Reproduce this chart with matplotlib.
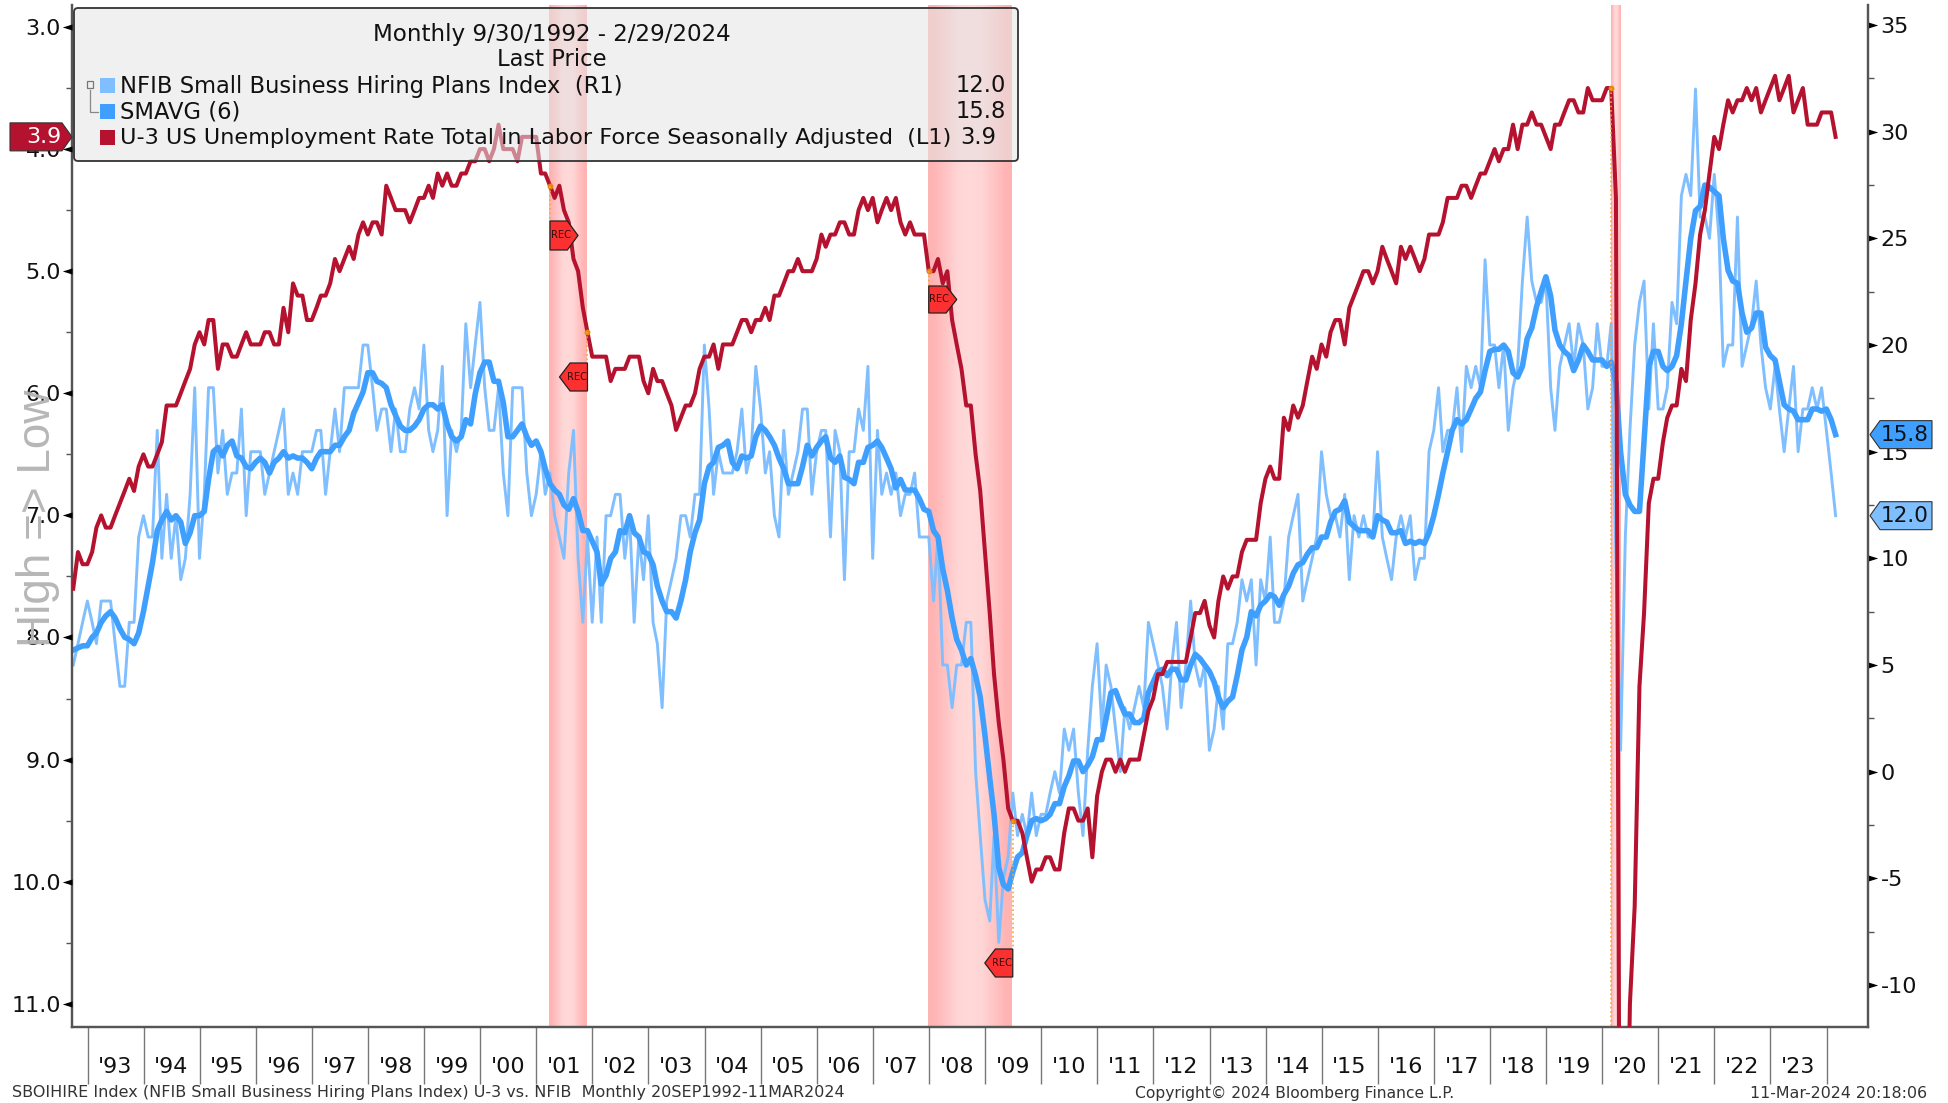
import numpy as np
import pandas as pd
import matplotlib
matplotlib.use("Agg")
import matplotlib.pyplot as plt
import matplotlib.dates as mdates
from matplotlib.patches import Polygon, FancyBboxPatch, Rectangle
from matplotlib.path import Path

FONT = "DejaVu Sans"
plt.rcParams["font.family"] = FONT

# monthly, Sep 1992 ... Feb 2024
u3 = [7.6, 7.3, 7.4, 7.4,
      7.3, 7.1, 7.0, 7.1, 7.1, 7.0, 6.9, 6.8, 6.7, 6.8, 6.6, 6.5,
      6.6, 6.6, 6.5, 6.4, 6.1, 6.1, 6.1, 6.0, 5.9, 5.8, 5.6, 5.5,
      5.6, 5.4, 5.4, 5.8, 5.6, 5.6, 5.7, 5.7, 5.6, 5.5, 5.6, 5.6,
      5.6, 5.5, 5.5, 5.6, 5.6, 5.3, 5.5, 5.1, 5.2, 5.2, 5.4, 5.4,
      5.3, 5.2, 5.2, 5.1, 4.9, 5.0, 4.9, 4.8, 4.9, 4.7, 4.6, 4.7,
      4.6, 4.6, 4.7, 4.3, 4.4, 4.5, 4.5, 4.5, 4.6, 4.5, 4.4, 4.4,
      4.3, 4.4, 4.2, 4.3, 4.2, 4.3, 4.3, 4.2, 4.2, 4.1, 4.1, 4.0,
      4.0, 4.1, 4.0, 3.8, 4.0, 4.0, 4.0, 4.1, 3.9, 3.9, 3.9, 3.9,
      4.2, 4.2, 4.3, 4.4, 4.3, 4.5, 4.6, 4.9, 5.0, 5.3, 5.5, 5.7,
      5.7, 5.7, 5.7, 5.9, 5.8, 5.8, 5.8, 5.7, 5.7, 5.7, 5.9, 6.0,
      5.8, 5.9, 5.9, 6.0, 6.1, 6.3, 6.2, 6.1, 6.1, 6.0, 5.8, 5.7,
      5.7, 5.6, 5.8, 5.6, 5.6, 5.6, 5.5, 5.4, 5.4, 5.5, 5.4, 5.4,
      5.3, 5.4, 5.2, 5.2, 5.1, 5.0, 5.0, 4.9, 5.0, 5.0, 5.0, 4.9,
      4.7, 4.8, 4.7, 4.7, 4.6, 4.6, 4.7, 4.7, 4.5, 4.4, 4.5, 4.4,
      4.6, 4.5, 4.4, 4.5, 4.4, 4.6, 4.7, 4.6, 4.7, 4.7, 4.7, 5.0,
      5.0, 4.9, 5.1, 5.0, 5.4, 5.6, 5.8, 6.1, 6.1, 6.5, 6.8, 7.3,
      7.8, 8.3, 8.7, 9.0, 9.4, 9.5, 9.5, 9.6, 9.8, 10.0, 9.9, 9.9,
      9.8, 9.8, 9.9, 9.9, 9.6, 9.4, 9.4, 9.5, 9.5, 9.4, 9.8, 9.3,
      9.1, 9.0, 9.0, 9.1, 9.0, 9.1, 9.0, 9.0, 9.0, 8.8, 8.6, 8.5,
      8.3, 8.3, 8.2, 8.2, 8.2, 8.2, 8.2, 8.0, 7.8, 7.8, 7.7, 7.9,
      8.0, 7.7, 7.5, 7.6, 7.5, 7.5, 7.3, 7.2, 7.2, 7.2, 6.9, 6.7,
      6.6, 6.7, 6.7, 6.2, 6.3, 6.1, 6.2, 6.1, 5.9, 5.7, 5.8, 5.6,
      5.7, 5.5, 5.4, 5.4, 5.6, 5.3, 5.2, 5.1, 5.0, 5.0, 5.1, 5.0,
      4.8, 4.9, 5.0, 5.1, 4.8, 4.9, 4.8, 4.9, 5.0, 4.9, 4.7, 4.7,
      4.7, 4.6, 4.4, 4.4, 4.4, 4.3, 4.3, 4.4, 4.3, 4.2, 4.2, 4.1,
      4.0, 4.1, 4.0, 4.0, 3.8, 4.0, 3.8, 3.8, 3.7, 3.8, 3.8, 3.9,
      4.0, 3.8, 3.8, 3.7, 3.6, 3.6, 3.7, 3.7, 3.5, 3.6, 3.6, 3.6,
      3.5, 3.5, 4.4, 14.8, 13.2, 11.0, 10.2, 8.4, 7.8, 6.9, 6.7, 6.7,
      6.4, 6.2, 6.1, 6.1, 5.8, 5.9, 5.4, 5.1, 4.7, 4.5, 4.2, 3.9,
      4.0, 3.8, 3.6, 3.7, 3.6, 3.6, 3.5, 3.6, 3.5, 3.7, 3.6, 3.5,
      3.4, 3.6, 3.5, 3.4, 3.7, 3.6, 3.5, 3.8, 3.8, 3.8, 3.7, 3.7,
      3.7, 3.9]

nfib = [5, 6, 7, 8, 7, 6, 8, 8, 8, 6,
        4, 4, 7, 7, 11, 12, 11, 11, 16, 10,
        13, 10, 12, 9, 10, 13, 18, 10, 13, 18,
        18, 14, 16, 13, 14, 14, 17, 12, 15, 15,
        15, 13, 14, 15, 16, 17, 13, 14, 13, 15,
        15, 15, 16, 16, 13, 15, 17, 15, 18, 18,
        18, 18, 20, 20, 18, 16, 17, 17, 15, 17,
        15, 15, 17, 18, 17, 20, 16, 15, 16, 19,
        12, 16, 15, 16, 21, 18, 20, 22, 18, 16,
        16, 18, 14, 12, 18, 18, 18, 14, 12, 13,
        15, 13, 14, 12, 11, 10, 14, 16, 10, 7,
        11, 7, 11, 7, 12, 12, 13, 13, 10, 12,
        7, 11, 9, 12, 7, 6, 3, 8, 9, 10,
        12, 12, 11, 13, 13, 20, 17, 13, 15, 14,
        14, 14, 15, 17, 14, 15, 19, 17, 14, 15,
        12, 11, 16, 13, 14, 15, 17, 17, 13, 15,
        16, 16, 11, 16, 15, 9, 15, 15, 17, 16,
        19, 10, 16, 13, 14, 13, 14, 12, 13, 13,
        14, 11, 11, 11, 8, 11, 5, 5, 3, 5,
        5, 7, 7, 0, -3, -6, -7, -3, -8, -5,
        -4, -1, -3, -2, -3, -1, -3, -2, -2, -1,
        0, -1, 2, 1, 2, -1, -3, 1, 4, 6,
        2, 5, 4, 2, 0, 3, 2, 3, 4, 3,
        7, 6, 5, 4, 2, 5, 7, 3, 5, 8,
        5, 4, 5, 1, 2, 4, 2, 6, 6, 7,
        9, 8, 9, 5, 9, 8, 11, 7, 7, 8,
        11, 12, 13, 8, 9, 10, 11, 15, 13, 12,
        12, 11, 13, 9, 12, 11, 12, 11, 11, 15,
        11, 10, 9, 11, 12, 11, 12, 9, 10, 10,
        15, 16, 18, 15, 16, 16, 18, 15, 19, 18,
        19, 18, 24, 20, 20, 18, 20, 16, 18, 19,
        23, 26, 23, 22, 22, 23, 18, 16, 19, 20,
        21, 19, 21, 20, 17, 18, 21, 19, 19, 21,
        10, 1, 11, 16, 20, 22, 23, 17, 21, 17,
        17, 18, 22, 21, 27, 28, 27, 32, 26, 26,
        25, 28, 25, 19, 20, 20, 26, 19, 20, 21,
        23, 20, 18, 17, 19, 17, 15, 17, 19, 15,
        17, 17, 18, 17, 18, 16, 14, 12]

smavg = [5.7, 5.8, 5.9, 5.9, 6.3, 6.5, 7.0, 7.3, 7.5, 7.2,
         6.7, 6.3, 6.2, 6.0, 6.5, 7.5, 8.7, 9.8, 11.3, 11.8,
         12.2, 11.8, 12.0, 11.7, 10.7, 11.2, 12.0, 12.0, 12.2, 13.7,
         15.0, 15.2, 14.8, 15.3, 15.5, 14.8, 14.7, 14.3, 14.2, 14.5,
         14.7, 14.5, 14.0, 14.5, 14.7, 15.0, 14.7, 14.8, 14.7, 14.7,
         14.5, 14.2, 14.7, 15.0, 15.0, 15.0, 15.3, 15.3, 15.7, 16.0,
         16.8, 17.3, 17.8, 18.7, 18.7, 18.3, 18.2, 18.0, 17.2, 16.7,
         16.2, 16.0, 16.0, 16.2, 16.5, 17.0, 17.2, 17.2, 17.0, 17.2,
         16.3, 15.7, 15.5, 15.7, 16.5, 16.3, 17.7, 18.7, 19.2, 19.2,
         18.3, 18.3, 17.3, 15.7, 15.7, 16.0, 16.3, 15.7, 15.3, 15.5,
         15.0, 14.2, 13.5, 13.2, 13.0, 12.5, 12.3, 12.8, 12.2, 11.3,
         11.3, 10.8, 10.3, 8.8, 9.2, 10.0, 10.3, 11.3, 11.2, 12.0,
         11.2, 11.0, 10.3, 10.2, 9.7, 8.7, 8.0, 7.5, 7.5, 7.2,
         8.0, 9.0, 10.3, 11.2, 11.8, 13.5, 14.3, 14.5, 15.2, 15.3,
         15.5, 14.5, 14.2, 14.8, 14.7, 14.8, 15.7, 16.2, 16.0, 15.7,
         15.3, 14.7, 14.2, 13.5, 13.5, 13.5, 14.3, 15.3, 14.8, 15.2,
         15.5, 15.7, 14.7, 14.5, 14.8, 13.8, 13.7, 13.5, 14.5, 14.5,
         15.2, 15.3, 15.5, 15.2, 14.7, 14.2, 13.3, 13.7, 13.2, 13.2,
         13.2, 12.8, 12.3, 12.2, 11.3, 11.0, 9.5, 8.5, 7.2, 6.2,
         5.7, 5.0, 5.3, 4.5, 3.5, 1.7, -0.3, -2.0, -4.5, -5.3,
         -5.5, -4.7, -4.0, -3.8, -3.0, -2.3, -2.2, -2.3, -2.2, -2.0,
         -1.5, -1.5, -0.7, -0.2, 0.5, 0.5, 0.0, 0.3, 0.7, 1.5,
         1.5, 2.5, 3.7, 3.8, 3.2, 2.7, 2.7, 2.3, 2.3, 2.5,
         3.7, 4.2, 4.7, 4.8, 4.5, 4.8, 4.8, 4.3, 4.3, 5.0,
         5.5, 5.3, 5.0, 4.7, 4.2, 3.5, 3.0, 3.3, 3.5, 4.5,
         5.7, 6.3, 7.5, 7.3, 7.8, 8.0, 8.3, 8.2, 7.8, 8.3,
         8.7, 9.3, 9.7, 9.8, 10.2, 10.5, 10.5, 11.0, 11.0, 11.7,
         12.2, 12.3, 12.7, 11.7, 11.5, 11.3, 11.3, 11.3, 11.0, 12.0,
         11.8, 11.7, 11.2, 11.2, 11.3, 10.7, 10.8, 10.7, 10.8, 10.7,
         11.2, 12.0, 13.0, 14.0, 15.0, 16.0, 16.5, 16.3, 16.5, 17.0,
         17.5, 17.8, 18.8, 19.7, 19.8, 19.8, 20.0, 19.7, 18.7, 18.5,
         19.0, 20.3, 20.8, 21.8, 22.5, 23.2, 22.3, 20.7, 20.0, 19.7,
         19.5, 18.8, 19.3, 20.0, 19.7, 19.3, 19.3, 19.3, 19.0, 19.2,
         18.2, 15.0, 13.0, 12.5, 12.2, 12.2, 15.5, 19.0, 19.7, 19.7,
         19.0, 18.8, 19.0, 19.5, 21.0, 23.0, 25.0, 26.3, 26.5, 27.5,
         27.4, 27.2, 27.0, 25.0, 23.5, 23.0, 22.9, 21.5, 20.6, 20.8,
         21.5, 21.5, 19.9, 19.5, 19.3, 18.3, 17.2, 17.0, 16.9, 16.5,
         16.5, 16.5, 17.0, 17.0, 16.9, 17.0, 16.5, 15.8]

dates = pd.date_range("1992-09-30", periods=len(u3), freq="ME")
years = list(range(1993, 2025))
year_labels = ["'%02d" % (y % 100) for y in years[:-1]]
recessions = [("2001-03-25", "2001-11-22"), ("2007-12-25", "2009-06-22"), ("2020-02-25", "2020-04-25")]
rec_starts_ends = ["2001-03-31", "2001-11-30", "2007-12-31", "2009-06-30", "2020-02-29"]

W, H = 1948, 1103
RED, SMA, THIN = "#b5122f", "#3f9fff", "#80bfff"
AX_L, AX_R, AX_T, AX_B = 72, 1868, 5, 1027
TICKFS = 16

fig = plt.figure(figsize=(W / 100, H / 100), dpi=100, facecolor="white")
ax = fig.add_axes([AX_L / W, 1 - AX_B / H, (AX_R - AX_L) / W, (AX_B - AX_T) / H])
ax2 = ax.twinx()
ax.set_zorder(ax2.get_zorder() + 1)
ax.patch.set_visible(False)

XLIM = (mdates.date2num(pd.Timestamp("1992-09-22")), mdates.date2num(pd.Timestamp("2024-09-27")))

# recession shading
grad = np.array([[0.0, 0.45, 0.9, 1.0, 0.9, 0.45, 0.0]])
cm = matplotlib.colors.LinearSegmentedColormap.from_list("b", ["#ffb4b4", "#ffd9d9"])
for a, b in recessions:
    ax2.imshow(grad, aspect="auto", cmap=cm, vmin=0, vmax=1, interpolation="bilinear", zorder=0,
               extent=[mdates.date2num(pd.Timestamp(a)), mdates.date2num(pd.Timestamp(b)), -12, 36])

ax2.plot(dates, nfib, color=THIN, lw=2.1, zorder=2, solid_joinstyle="round")
ax2.plot(dates, smavg, color=SMA, lw=4.0, zorder=3, solid_joinstyle="round")
ax.plot(dates, u3, color=RED, lw=2.9, zorder=4, solid_joinstyle="round")

ax.set_xlim(XLIM)
ax.set_ylim(11.19, 2.82)
ax2.set_ylim(-11.97, 35.94)
ax2.set_xlim(XLIM)

for a in (ax, ax2):
    a.spines["top"].set_visible(False)
    for s in ("left", "right", "bottom"):
        a.spines[s].set_color("#555555")
        a.spines[s].set_linewidth(1.6)

# x axis: year separators and centred year labels
ax.set_xticks([mdates.date2num(pd.Timestamp(f"{y}-01-01")) for y in years])
ax.set_xticks([mdates.date2num(pd.Timestamp(f"{y}-07-01")) for y in years[:-1]], minor=True)
ax.set_xticklabels([""] * len(years))
ax.set_xticklabels(year_labels, minor=True, fontsize=TICKFS, color="#111111")
ax.tick_params(axis="x", which="major", length=41, width=1.0, color="#777777")
ax.tick_params(axis="x", which="minor", length=0, pad=21.5)
ax2.tick_params(axis="x", which="both", length=0, labelbottom=False)

# y axes
lmaj = [3, 4, 5, 6, 7, 8, 9, 10, 11]
lmin = [3.5, 4.5, 5.5, 6.5, 7.5, 8.5, 9.5, 10.5]
rmaj = list(range(-10, 36, 5))
rmin = [-7.5, -2.5, 2.5, 7.5, 12.5, 17.5, 22.5, 27.5, 32.5]
ax.set_yticks(lmaj)
ax.set_yticklabels(["%.1f" % v for v in lmaj], fontsize=TICKFS, color="#111111")
ax.set_yticks(lmin, minor=True)
ax.tick_params(axis="y", which="major", length=0, pad=8)
ax.tick_params(axis="y", which="minor", length=4, width=1, color="#555555", left=True)
ax2.set_yticks(rmaj)
ax2.set_yticklabels([str(v) for v in rmaj], fontsize=TICKFS, color="#111111")
ax2.set_yticks(rmin, minor=True)
ax2.tick_params(axis="y", which="major", length=0, pad=9)
ax2.tick_params(axis="y", which="minor", length=4, width=1, color="#555555", right=True)

tri_l = Path([(0, -0.5), (0, 0.5), (-1.6, 0), (0, -0.5)], closed=True)
tri_r = Path([(0, -0.5), (0, 0.5), (1.6, 0), (0, -0.5)], closed=True)
ax.plot([0] * len(lmaj), lmaj, ls="", marker=tri_l, ms=14, color="black", mew=0,
        transform=ax.get_yaxis_transform(), clip_on=False, zorder=6)
ax2.plot([1] * len(rmaj), rmaj, ls="", marker=tri_r, ms=14, color="black", mew=0,
         transform=ax2.get_yaxis_transform(), clip_on=False, zorder=6)

# recession start / end dots
ORANGE = "#e8860c"
for d in rec_starts_ends:
    ts = pd.Timestamp(d)
    ax.plot([ts], [u3[list(dates).index(ts)]], ls="", marker="o", ms=4.2, color=ORANGE, mew=0, zorder=5)

# pixel overlay
ov = fig.add_axes([0, 0, 1, 1], facecolor="none")
ov.set_xlim(0, W)
ov.set_ylim(H, 0)
ov.axis("off")
ov.set_zorder(10)
fig.canvas.draw()

def px_l(date, v):
    p = ax.transData.transform((mdates.date2num(pd.Timestamp(date)), v))
    return p[0], H - p[1]

def px_r(v):
    p = ax2.transData.transform((XLIM[1], v))
    return p[0], H - p[1]

def rec(date, v, ytop, ybot, right=True, w=28):
    x, y0 = px_l(date, v)
    ov.plot([x, x], [y0, ytop if y0 < ytop else ybot], ls=":", lw=1.2, color="#f5a33c", zorder=1)
    ym = (ytop + ybot) / 2
    if right:
        pts = [(x, ytop), (x + w * 0.62, ytop), (x + w, ym), (x + w * 0.62, ybot), (x, ybot)]
        tx = x + w * 0.38
    else:
        pts = [(x, ytop), (x - w * 0.62, ytop), (x - w, ym), (x - w * 0.62, ybot), (x, ybot)]
        tx = x - w * 0.38
    ov.add_patch(Polygon(pts, closed=True, fc="#fb3030", ec="#222222", lw=0.9, zorder=2))
    ov.text(tx, ym, "REC", fontsize=7.2, ha="center", va="center", color="#3a0a0a", zorder=3)

rec("2001-03-31", 4.3, 221, 250, True)
rec("2001-11-30", 5.5, 363, 391, False)
rec("2007-12-31", 5.0, 286, 313, True)
rec("2009-06-30", 9.5, 949, 977, False)
xc, yc = px_l("2020-02-29", 3.5)
ov.plot([xc, xc], [yc, AX_B], ls=":", lw=1.2, color="#f5a33c", zorder=1)

# High => Low
ov.text(38, 518, "High => Low", rotation=90, fontsize=33, color="#b3b3b3", ha="center", va="center",
        zorder=0.5, family="Liberation Sans", alpha=0.95)

# legend box
ov.add_patch(FancyBboxPatch((74, 8), 944, 153, boxstyle="round,pad=0,rounding_size=4",
                            fc="#e4e4e4", ec="none", alpha=0.55, zorder=5))
ov.add_patch(FancyBboxPatch((74, 8), 944, 153, boxstyle="round,pad=0,rounding_size=4",
                            fc="none", ec="#333333", lw=1.3, zorder=5.1))
LFS = 16.3
ov.text(552, 34, "Monthly 9/30/1992 - 2/29/2024", fontsize=16.6, ha="center", va="center", color="#111111", zorder=6)
ov.text(552, 60, "Last Price", fontsize=LFS, ha="center", va="center", color="#111111", zorder=6)
rows = [(86, THIN, "NFIB Small Business Hiring Plans Index  (R1)", "12.0", 1006, "right"),
        (112, SMA, "SMAVG (6)", "15.8", 1006, "right"),
        (138, RED, "U-3 US Unemployment Rate Total in Labor Force Seasonally Adjusted  (L1)", "3.9", 960, "left")]
for yy, col, lab, val, vx, ha in rows:
    ov.add_patch(Rectangle((100, yy - 8), 15, 15, fc=col, ec="none", zorder=6))
    ov.text(120, yy, lab, fontsize=LFS if col != RED else 16.1, ha="left", va="center", color="#111111", zorder=6)
    ov.text(vx, yy, val, fontsize=LFS, ha=ha, va="center", color="#111111", zorder=6)
ov.plot([90, 90, 98], [90, 112, 112], color="#888888", lw=0.9, zorder=6)
ov.add_patch(Rectangle((87, 81), 6, 7, fc="#f0f0f0", ec="#777777", lw=0.9, zorder=6))

# value badges
_, y39 = px_l("2024-02-29", u3[-1])
ov.add_patch(Polygon([(10, y39 - 14), (62, y39 - 14), (72, y39), (62, y39 + 14), (10, y39 + 14)],
                     closed=True, fc=RED, ec="#333333", lw=0.8, zorder=7))
ov.text(44, y39, "3.9", fontsize=16, color="white", ha="center", va="center", zorder=8)
for v, col, lab in ((smavg[-1], SMA, "15.8"), (nfib[-1], THIN, "12.0")):
    x, y = px_r(v)
    x += 2
    ov.add_patch(Polygon([(x, y), (x + 10, y - 14), (x + 62, y - 14), (x + 62, y + 14), (x + 10, y + 14)],
                         closed=True, fc=col, ec="#333333", lw=0.8, zorder=7))
    ov.text(x + 35, y, lab, fontsize=15.5, color="#111111", ha="center", va="center", zorder=8)

# footer
FC = "#333333"
ov.text(12, 1093, "SBOIHIRE Index (NFIB Small Business Hiring Plans Index) U-3 vs. NFIB  Monthly 20SEP1992-11MAR2024",
        fontsize=11.5, ha="left", va="center", color=FC)
ov.text(1135, 1093, "Copyright\u00a9 2024 Bloomberg Finance L.P.", fontsize=11.2, ha="left", va="center", color=FC)
ov.text(1927, 1093, "11-Mar-2024 20:18:06", fontsize=11.4, ha="right", va="center", color=FC)

fig.savefig("out.png", dpi=100, facecolor="white")
